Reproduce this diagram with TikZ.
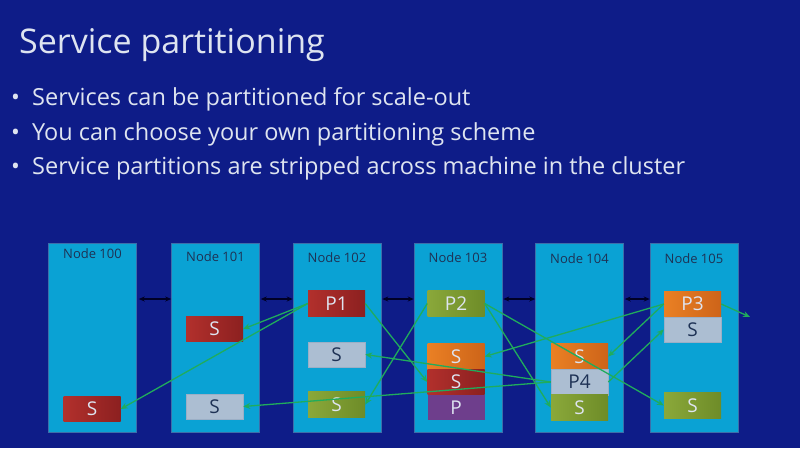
\documentclass[tikz,border=0pt]{standalone}
\usepackage{fontspec}
\setmainfont{Open Sans}
\usetikzlibrary{arrows.meta}
\definecolor{bg}{RGB}{14,28,136}
\definecolor{mach}{RGB}{10,162,212}
\definecolor{machb}{RGB}{60,110,170}
\definecolor{txt}{RGB}{222,228,240}
\definecolor{nlab}{RGB}{30,50,85}
\definecolor{cred}{RGB}{178,48,44}
\definecolor{cred2}{RGB}{140,32,32}
\definecolor{cgray}{RGB}{172,190,210}
\definecolor{cgray2}{RGB}{155,175,198}
\definecolor{cgreen}{RGB}{138,168,58}
\definecolor{cgreen2}{RGB}{110,140,40}
\definecolor{corange}{RGB}{234,128,36}
\definecolor{corange2}{RGB}{205,100,25}
\definecolor{cpurple}{RGB}{110,62,140}
\definecolor{lgreen}{RGB}{32,172,92}
\tikzset{
  machine/.style={draw=machb, line width=0.6pt, fill=mach, minimum width=88pt, minimum height=189pt, inner sep=0pt},
  nlabel/.style={text=nlab, font=\fontsize{13}{14}\selectfont, inner sep=0pt},
  part/.style={minimum width=57pt, minimum height=25.5pt, inner sep=0pt, font=\fontsize{19}{20}\selectfont},
  pred/.style={part, left color=cred, right color=cred2, text=txt},
  pgray/.style={part, fill=cgray, text=nlab, draw=cgray2, line width=0.5pt},
  pgreen/.style={part, left color=cgreen, right color=cgreen2, text=txt},
  porange/.style={part, left color=corange, right color=corange2, text=txt},
  ppurple/.style={part, fill=cpurple, text=txt},
  link/.style={black!85!blue, line width=1.1pt, {Stealth[length=6pt,width=5pt]}-{Stealth[length=6pt,width=5pt]}},
  rep/.style={lgreen, line width=1.3pt, -{Stealth[length=7pt,width=6pt]}},
  bullet/.style={text=txt, anchor=base west, inner sep=0pt, font=\fontsize{23.5}{26}\selectfont}
}
\begin{document}
\begin{tikzpicture}[x=1pt,y=-1pt]
\fill[bg] (0,0) rectangle (800,448);
\useasboundingbox (0,0) rectangle (800,448);

\node[text=txt, anchor=base west, inner sep=0pt, font=\fontsize{34}{38}\selectfont] (title) at (19,53) {Service partitioning};
\node[bullet] (b1) at (11,105) {•};
\node[bullet] (t1) at (32,105) {Services can be partitioned for scale-out};
\node[bullet] (b2) at (11,140) {•};
\node[bullet] (t2) at (32,140) {You can choose your own partitioning scheme};
\node[bullet] (b3) at (11,174) {•};
\node[bullet] (t3) at (32,174) {Service partitions are stripped across machine in the cluster};

% machines
\node[machine] (m100) at (92.5,337.5) {};
\node[machine] (m101) at (215.5,337.5) {};
\node[machine] (m102) at (337,337.5) {};
\node[machine] (m103) at (458,337.5) {};
\node[machine] (m104) at (579.5,337.5) {};
\node[machine] (m105) at (694,337.5) {};
\node[nlabel] (l100) at (92.5,254) {Node 100};
\node[nlabel] (l101) at (215.5,257) {Node 101};
\node[nlabel] (l102) at (337,258) {Node 102};
\node[nlabel] (l103) at (458,258) {Node 103};
\node[nlabel] (l104) at (579.5,259) {Node 104};
\node[nlabel] (l105) at (694,259) {Node 105};

% links between machines
\coordinate (ly) at (0,299);
\draw[link] ([xshift=2pt]m100.east |- ly) -- (m101.west |- ly);
\draw[link] ([xshift=1pt]m101.east |- ly) -- (m102.west |- ly);
\draw[link] ([xshift=1pt]m102.east |- ly) -- (m103.west |- ly);
\draw[link] ([xshift=1pt]m103.east |- ly) -- (m104.west |- ly);
\draw[link] ([xshift=1pt]m104.east |- ly) -- (m105.west |- ly);

% partitions
\node[pred] (s100) at (92,409) {S};
\node[pred] (s101r) at (214.5,329) {S};
\node[pgray] (s101g) at (214.5,406.5) {S};
\node[pred] (p1) at (336.5,303.5) {P1};
\node[pgray] (s102g) at (336.5,354.5) {S};
\node[pgreen] (s102n) at (336.5,404.5) {S};
\node[pgreen] (p2) at (456,303.5) {P2};
\node[porange] (s103o) at (456,356.5) {S};
\node[pred] (s103r) at (456,382) {S};
\node[ppurple] (p103) at (456,407.5) {P};
\node[porange] (s104o) at (579.5,356.5) {S};
\node[pgray] (p4) at (579.5,382) {P4};
\node[pgreen] (s104n) at (579.5,407.5) {S};
\node[porange] (p3) at (692.5,304) {P3};
\node[pgray] (s105g) at (692.5,329.5) {S};
\node[pgreen] (s105n) at (692.5,405.5) {S};

% replication arrows
\coordinate (out) at (750,317);
\draw[rep] (p1.west) -- (s101r.east);
\draw[rep] (p1.west) -- (s100.east);
\draw[rep] (p1.east) -- (s103r.west);
\draw[rep] (p2.west) -- (s102n.east);
\draw[rep] (p2.east) -- (s104n.west);
\draw[rep] (p2.east) -- (s105n.west);
\draw[rep] (p3.west) -- (s103o.east);
\draw[rep] (p3.west) -- (s104o.east);
\draw[rep] (p3.east) -- (out);
\draw[rep] (p4.west) -- (s102g.east);
\draw[rep] (p4.west) -- (s101g.east);
\draw[rep] (p4.east) -- (s105g.west);
\end{tikzpicture}
\end{document}
